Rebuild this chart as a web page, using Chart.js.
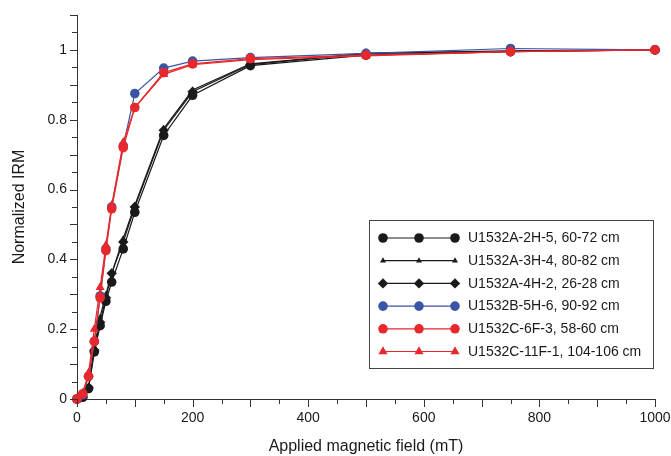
<!DOCTYPE html>
<html>
<head>
<meta charset="utf-8">
<script src="https://cdn.jsdelivr.net/npm/chart.js@4/dist/chart.umd.min.js"></script>
<style>
html,body{margin:0;padding:0;background:#fff;}
#wrap{width:671px;height:456px;position:relative;}
</style>
</head>
<body>
<div id="wrap"><canvas id="c" width="671" height="456"></canvas></div>
<script>
// ---- data ----
const fields = [0, 10, 20, 30, 40, 50, 60, 80, 100, 150, 200, 300, 500, 750, 1000];
const labels = ["U1532A-2H-5, 60-72 cm", "U1532A-3H-4, 80-82 cm", "U1532A-4H-2, 26-28 cm",
                "U1532B-5H-6, 90-92 cm", "U1532C-6F-3, 58-60 cm", "U1532C-11F-1, 104-106 cm"];
const s2H5  = [0, 0.005, 0.030, 0.135, 0.210, 0.280, 0.335, 0.430, 0.535, 0.755, 0.870, 0.955, 0.985, 0.995, 1];
const s3H4  = [0, 0.008, 0.035, 0.150, 0.235, 0.300, 0.360, 0.460, 0.555, 0.775, 0.885, 0.960, 0.990, 0.997, 1];
const s4H2  = [0, 0.006, 0.032, 0.140, 0.220, 0.290, 0.360, 0.450, 0.550, 0.770, 0.880, 0.958, 0.990, 0.996, 1];
const s5H6  = [0, 0.012, 0.065, 0.165, 0.295, 0.430, 0.550, 0.725, 0.875, 0.948, 0.968, 0.978, 0.990, 1.004, 1];
const s6F3  = [0, 0.015, 0.065, 0.165, 0.290, 0.425, 0.545, 0.720, 0.835, 0.935, 0.960, 0.975, 0.985, 0.995, 1];
const s11F1 = [0, 0.017, 0.075, 0.200, 0.320, 0.440, 0.555, 0.735, 0.835, 0.930, 0.958, 0.972, 0.983, 0.995, 1];
const xTickLabels = [0, 200, 400, 600, 800, 1000];
const yTickLabels = [0, 0.2, 0.4, 0.6, 0.8, 1];

const FONT = "'Liberation Sans', Arial, Helvetica, sans-serif";
const BLACK = '#1a1a1a', BLUE = '#3a55a6', RED = '#e8282c';

const seriesDefs = [
  {data: s2H5,  color: BLACK, style: 'circle',   r: 4.8},
  {data: s3H4,  color: BLACK, style: 'triangle', r: 3.5},
  {data: s4H2,  color: BLACK, style: 'rectRot',  r: 5.2},
  {data: s5H6,  color: BLUE,  style: 'circle',   r: 4.8},
  {data: s6F3,  color: RED,   style: 'circle',   r: 4.8},
  {data: s11F1, color: RED,   style: 'triangle', r: 5.3},
];

const datasets = seriesDefs.map((d, i) => ({
  label: labels[i],
  data: fields.map((f, j) => ({x: f, y: d.data[j]})),
  borderColor: d.color,
  backgroundColor: d.color,
  pointBackgroundColor: d.color,
  pointBorderColor: d.color,
  pointStyle: d.style,
  pointRadius: d.r,
  pointBorderWidth: 0,
  borderWidth: 1.2,
  tension: 0,
  clip: false,
  order: seriesDefs.length - i
}));

// custom ticks drawn with the library's scales
const tickPlugin = {
  id: 'ticks',
  afterDraw(chart) {
    const ctx = chart.ctx, xs = chart.scales.x, ys = chart.scales.y, area = chart.chartArea;
    ctx.save();
    ctx.strokeStyle = '#333';
    ctx.lineWidth = 1;
    ctx.beginPath();
    for (let v = 0; v <= 1000; v += 50) {
      const px = Math.round(xs.getPixelForValue(v)) + 0.5;
      const len = (v % 100 === 0) ? 8 : 5;
      ctx.moveTo(px, area.bottom);
      ctx.lineTo(px, area.bottom + len);
    }
    for (let k = 0; k <= 22; k++) {
      const v = k * 0.05;
      const py = Math.round(ys.getPixelForValue(v)) + 0.5;
      const len = (k % 2 === 0) ? 7 : 5;
      ctx.moveTo(area.left, py);
      ctx.lineTo(area.left - len, py);
    }
    ctx.stroke();
    ctx.restore();
  }
};

// legend drawn as a box with three markers per line
const legendPlugin = {
  id: 'boxLegend',
  afterDraw(chart) {
    const ctx = chart.ctx;
    const box = {l: 369.5, t: 220.5, r: 653.5, b: 368.5};
    ctx.save();
    ctx.fillStyle = '#fff';
    ctx.fillRect(box.l, box.t, box.r - box.l, box.b - box.t);
    ctx.strokeStyle = '#444';
    ctx.lineWidth = 1;
    ctx.strokeRect(box.l, box.t, box.r - box.l, box.b - box.t);
    const rowY0 = 238, rowDy = 22.7;
    const mx = [383, 419, 455];
    chart.data.datasets.forEach((ds, i) => {
      const y = rowY0 + i * rowDy;
      ctx.strokeStyle = ds.borderColor;
      ctx.lineWidth = 1.2;
      ctx.beginPath();
      ctx.moveTo(mx[0], y);
      ctx.lineTo(mx[2], y);
      ctx.stroke();
      mx.forEach(x => {
        ctx.fillStyle = ds.backgroundColor;
        ctx.strokeStyle = ds.borderColor;
        Chart.helpers.drawPoint(ctx, {pointStyle: ds.pointStyle, radius: ds.pointRadius, rotation: 0, borderWidth: 0}, x, y);
      });
      ctx.fillStyle = '#1a1a1a';
      ctx.font = '14px ' + FONT;
      ctx.textBaseline = 'middle';
      ctx.textAlign = 'left';
      ctx.fillText(ds.label, 468, y + 0.5);
    });
    ctx.restore();
  }
};

new Chart(document.getElementById('c'), {
  type: 'line',
  data: {datasets},
  options: {
    responsive: false,
    animation: false,
    devicePixelRatio: 1,
    layout: {padding: {top: 15, right: 16, left: 0, bottom: 0}},
    plugins: {legend: {display: false}, tooltip: {enabled: false}},
    scales: {
      x: {
        type: 'linear', min: 0, max: 1000,
        afterBuildTicks: s => { s.ticks = xTickLabels.map(v => ({value: v})); },
        afterFit: s => { s.height = 57; s.paddingLeft = 0; s.paddingRight = 0; },
        grid: {display: false, drawTicks: false},
        border: {display: true, color: '#333', width: 1},
        ticks: {padding: 11, color: '#1a1a1a', font: {family: FONT, size: 14}, maxRotation: 0,
                callback: v => String(v)},
        title: {display: true, text: 'Applied magnetic field (mT)', color: '#1a1a1a',
                font: {family: FONT, size: 16}, padding: {top: 4, bottom: 0}}
      },
      y: {
        type: 'linear', min: 0, max: 1.1,
        afterBuildTicks: s => { s.ticks = yTickLabels.map(v => ({value: v})); },
        afterFit: s => { s.width = 77; s.paddingTop = 0; s.paddingBottom = 0; },
        grid: {display: false, drawTicks: false},
        border: {display: true, color: '#333', width: 1},
        ticks: {padding: 10, color: '#1a1a1a', font: {family: FONT, size: 14},
                callback: v => String(+v.toFixed(1))},
        title: {display: true, text: 'Normalized IRM', color: '#1a1a1a',
                font: {family: FONT, size: 16}, padding: {top: 10, bottom: 0}}
      }
    }
  },
  plugins: [tickPlugin, legendPlugin]
});
</script>
</body>
</html>
